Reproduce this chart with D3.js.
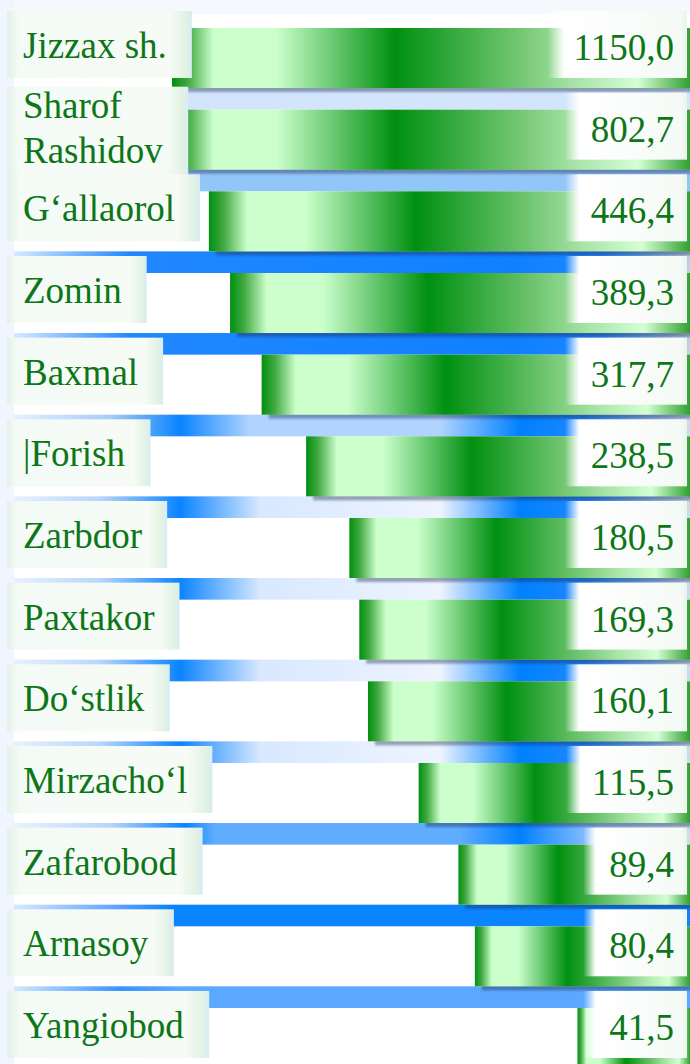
<!DOCTYPE html>
<html>
<head>
<meta charset="utf-8">
<script src="https://cdn.jsdelivr.net/npm/d3@7"></script>
<style>
  body { margin: 0; background: #fff; }
  svg { display: block; }
</style>
</head>
<body>
<svg id="chart"></svg>
<script>
// data
const regions = ["Jizzax sh.", "Sharof\nRashidov", "G‘allaorol", "Zomin", "Baxmal", "|Forish",
  "Zarbdor", "Paxtakor", "Do‘stlik", "Mirzacho‘l", "Zafarobod", "Arnasoy", "Yangiobod"];
const values = [1150.0, 802.7, 446.4, 389.3, 317.7, 238.5, 180.5, 169.3, 160.1, 115.5, 89.4, 80.4, 41.5];

const WIDTH = 690, HEIGHT = 1064;
const FONT = 37;
const SERIF = "'Liberation Serif', 'Times New Roman', Times, serif";
const INK = "#0d7618";

// blue strips under each row, [x, colour]
const PALE = [[0, "#dceafc"], [14, "#d2e5fc"], [690, "#d2e5fc"]];
const MID = [[0, "#eef5ff"], [150, "#b0d4fa"], [200, "#92c5f8"], [690, "#92c5f8"]];
const BRIGHT = [[0, "#eef6ff"], [130, "#2088ff"], [520, "#1080ff"], [600, "#2088ff"], [690, "#c0d0e4"]];
const DOUBLE_A = [[0, "#eef6ff"], [110, "#a8ccf8"], [180, "#0a84ff"], [250, "#b0d4ff"], [440, "#b0d4ff"], [520, "#0080ff"], [585, "#2088ff"], [690, "#d0dcec"]];
const DOUBLE_B = [[0, "#eef6ff"], [100, "#b8d6fa"], [180, "#0a84ff"], [260, "#d8e8ff"], [440, "#eef4ff"], [520, "#0080ff"], [585, "#2088ff"], [690, "#d0dcec"]];
const SOFT = [[0, "#eef6ff"], [110, "#b8d6fa"], [185, "#0a84ff"], [215, "#60acff"], [460, "#60acff"], [520, "#0080ff"], [600, "#a0c8ff"], [690, "#d0dcec"]];
const FULL = [[0, "#e8f2ff"], [120, "#5aa0ff"], [170, "#0a84ff"], [690, "#0a84ff"]];
const LAST = [[0, "#e8f2ff"], [120, "#3a90ff"], [180, "#5aa8ff"], [690, "#5aa8ff"]];
const bandStyles = [PALE, MID, BRIGHT, BRIGHT, DOUBLE_A, DOUBLE_B, DOUBLE_B, DOUBLE_B, DOUBLE_B, SOFT, FULL, LAST];

const svg = d3.select("#chart").attr("width", WIDTH).attr("height", HEIGHT);
const defs = svg.append("defs");

const y = d3.scaleBand().domain(regions).range([28, 1068]).paddingInner(0.265);
// bars grow leftward from the right edge, long ones are cut at the label column
const x = d3.scaleLog().domain([20.1, 566]).range([WIDTH, 172]).clamp(true);
const fmt = v => d3.format(".1f")(v).replace(".", ",");

// bar fill
const barGrad = defs.append("linearGradient").attr("id", "barGrad");
[[0, "#009010"], [0.03, "#40a840"], [0.08, "#ccffcc"], [0.2, "#ccffcc"], [0.43, "#009010"],
 [0.66, "#6ec46e"], [0.78, "#a8e4a8"], [0.9, "#d4ffd4"], [1, "#30a030"]]
  .forEach(s => barGrad.append("stop").attr("offset", s[0]).attr("stop-color", s[1]));

const boxGrad = defs.append("linearGradient").attr("id", "boxGrad");
[[0, "#e2f1e6"], [0.06, "#f4faf5"], [0.88, "#f6fbf6"], [0.96, "#e4f3e4"], [1, "#d8ecf0"]]
  .forEach(s => boxGrad.append("stop").attr("offset", s[0]).attr("stop-color", s[1]));

const valGrad = defs.append("linearGradient").attr("id", "valGrad");
[[0, "#ffffff", 0], [0.12, "#ffffff", 1], [0.95, "#f5faf6", 1], [1, "#e8f4ea", 1]]
  .forEach(s => valGrad.append("stop").attr("offset", s[0]).attr("stop-color", s[1]).attr("stop-opacity", s[2]));

defs.append("filter").attr("id", "blur").append("feGaussianBlur").attr("stdDeviation", 1.2);

bandStyles.forEach((stops, i) => {
  const g = defs.append("linearGradient").attr("id", "band" + i)
    .attr("gradientUnits", "userSpaceOnUse").attr("x1", 0).attr("x2", WIDTH);
  stops.forEach(s => g.append("stop").attr("offset", s[0] / WIDTH).attr("stop-color", s[1]));
});

// background
svg.append("rect").attr("width", WIDTH).attr("height", HEIGHT).attr("fill", "#fff");
svg.append("rect").attr("width", WIDTH).attr("height", 14).attr("fill", "#f5f8fd");
svg.append("rect").attr("width", 14).attr("height", HEIGHT).attr("fill", "#f0f6ff");

const bw = y.bandwidth();
const step = y.step();

// strips between rows
svg.selectAll(".band")
  .data(regions.slice(0, bandStyles.length))
  .enter().append("rect")
  .attr("class", "band")
  .attr("x", 14)
  .attr("y", d => y(d) + bw)
  .attr("width", WIDTH - 14)
  .attr("height", step - bw)
  .attr("fill", (d, i) => `url(#band${i})`);

// shadows
svg.selectAll(".shadow")
  .data(values)
  .enter().append("rect")
  .attr("class", "shadow")
  .attr("x", d => x(d) + 7)
  .attr("y", (d, i) => y(regions[i]) + 4)
  .attr("width", d => WIDTH - x(d))
  .attr("height", bw)
  .attr("fill", "#1a2a50")
  .attr("opacity", 0.4)
  .attr("filter", "url(#blur)");

// bars
svg.selectAll(".bar")
  .data(values)
  .enter().append("rect")
  .attr("class", "bar")
  .attr("x", d => x(d))
  .attr("y", (d, i) => y(regions[i]))
  .attr("width", d => WIDTH - x(d))
  .attr("height", bw)
  .attr("fill", "url(#barGrad)");

// category labels
const labels = svg.selectAll(".label")
  .data(regions)
  .enter().append("g")
  .attr("class", "label")
  .attr("transform", d => `translate(0, ${y(d)})`);

labels.each(function (d) {
  const g = d3.select(this);
  const box = g.append("rect").attr("x", 7).attr("y", -17).attr("height", 67).attr("fill", "url(#boxGrad)");
  const lines = d.split("\n");
  const t = g.append("text").attr("font-size", FONT).attr("font-family", SERIF).attr("fill", INK);
  if (lines.length > 1) {
    lines.forEach((l, k) => t.append("tspan").attr("x", 23).attr("y", 8 + k * 45).text(l));
    box.attr("y", -23).attr("height", 96);
  } else {
    t.attr("x", 23).attr("y", 30).text(d);
  }
  const bb = t.node().getBBox();
  box.attr("width", bb.x + bb.width + 25 - 7);
});

// value labels
const vals = svg.selectAll(".value")
  .data(values)
  .enter().append("g")
  .attr("class", "value")
  .attr("transform", (d, i) => `translate(0, ${y(regions[i])})`);

vals.each(function (d) {
  const g = d3.select(this);
  const box = g.append("rect").attr("y", -17).attr("height", 67).attr("fill", "url(#valGrad)");
  const t = g.append("text").attr("font-size", FONT).attr("font-family", SERIF).attr("fill", INK)
    .attr("text-anchor", "end").attr("x", 674).attr("y", 32).text(fmt(d));
  const bb = t.node().getBBox();
  const left = bb.x - 26;
  box.attr("x", left).attr("width", 687 - left);
});
</script>
</body>
</html>
